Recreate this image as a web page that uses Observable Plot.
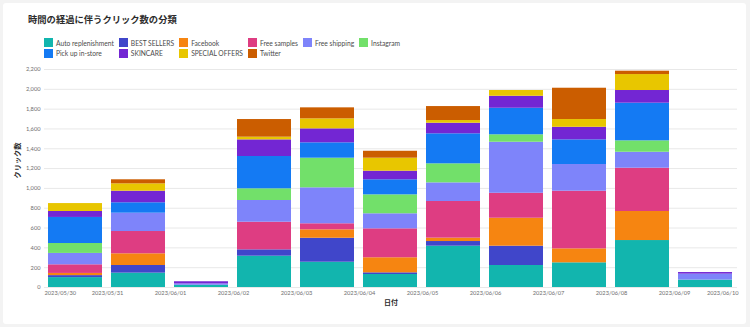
<!DOCTYPE html>
<html>
<head>
<meta charset="utf-8">
<script src="https://cdn.jsdelivr.net/npm/d3@7"></script>
<script src="https://cdn.jsdelivr.net/npm/@observablehq/plot@0.6"></script>
<style>
  html, body { margin: 0; padding: 0; }
  body { width: 750px; height: 327px; background: #f3f3f3; position: relative; overflow: hidden;
         font-family: Lato, "Open Sans", "Noto Sans", sans-serif; }
  .card { position: absolute; left: 3px; top: 3px; width: 743px; height: 321px; background: #fff; border-radius: 3px; }
  #chart { position: absolute; left: 0; top: 0; }
  .title { position: absolute; left: 28px; top: 12px; font-family: "Noto Sans CJK JP", sans-serif; font-weight: 700;
           font-size: 9.3px; color: #2c2c2c; white-space: nowrap; }
  .legend { position: absolute; left: 44px; top: 38px; display: grid; grid-template-columns: repeat(6, auto);
            column-gap: 5px; row-gap: 1.5px; font-size: 6.7px; color: #4b4b4b; }
  .legend .item { display: flex; align-items: center; white-space: nowrap; height: 9px; }
  .legend .sw { width: 9px; height: 9px; margin-right: 3px; flex: none; }
</style>
</head>
<body>
<div class="card"></div>
<div id="chart"></div>
<div class="title">時間の経過に伴うクリック数の分類</div>
<div class="legend" id="legend"></div>
<script>
const dates = ["2023-05-30","2023-05-31","2023-06-01","2023-06-02","2023-06-03","2023-06-04","2023-06-05","2023-06-06","2023-06-07","2023-06-08","2023-06-09"];
const tickDates = ["2023-05-30","2023-05-31","2023-06-01","2023-06-02","2023-06-03","2023-06-04","2023-06-05","2023-06-06","2023-06-07","2023-06-08","2023-06-09","2023-06-10"];
const seriesNames = ["Auto replenishment","BEST SELLERS","Facebook","Free samples","Free shipping","Instagram","Pick up in-store","SKINCARE","SPECIAL OFFERS","Twitter"];
const seriesColors = ["#12b5ae","#4046ca","#f68511","#de3d82","#7e84fa","#72e06a","#147af3","#7326d3","#e8c600","#cb5d00"];

const autoReplenishment = [100, 145, 22, 316, 255, 131, 417, 222, 249, 474, 75];
const bestSellers       = [ 20,  77,  0,  64, 242,  17,  47, 195,   0,   0,  0];
const facebook          = [ 22, 118,  0,   0,  85, 152,  34, 282, 141, 293,  0];
const freeSamples       = [ 87, 225,  0, 279,  61, 292, 370, 252, 582, 437,  0];
const freeShipping      = [115, 185, 14, 219, 363, 152, 188, 515, 269, 161, 60];
const instagram         = [100,   0,  0, 118, 299, 191, 192,  75,   0, 115,  0];
const pickUpInStore     = [263, 105,  0, 326, 155, 152, 303, 268, 249, 380,  0];
const skincare          = [ 60, 117, 22, 168, 141,  87, 107, 121, 127, 128, 16];
const specialOffers     = [ 80,  74,  0,  27, 101, 131,  27,  58,  78, 161,  0];
const twitter           = [  0,  41,  0, 178, 111,  70, 141,   0, 316,  34,  0];

const yTicks = [0, 200, 400, 600, 800, 1000, 1200, 1400, 1600, 1800, 2000, 2200];
const yLabel = "クリック数";
const xLabel = "日付";

const seriesValues = [autoReplenishment, bestSellers, facebook, freeSamples, freeShipping, instagram, pickUpInStore, skincare, specialOffers, twitter];
const parse = d3.utcParse("%Y-%m-%d");
const rows = [];
seriesNames.forEach((s, i) => {
  dates.forEach((d, j) => rows.push({series: s, date: parse(d), value: seriesValues[i][j]}));
});
const ticks = tickDates.map(parse);
const fmt = d3.utcFormat("%Y/%m/%d");
const numFmt = d3.format(",");

// legend
const legend = document.getElementById("legend");
seriesNames.forEach((s, i) => {
  const it = document.createElement("div");
  it.className = "item";
  it.innerHTML = `<span class="sw" style="background:${seriesColors[i]}"></span><span>${s}</span>`;
  legend.appendChild(it);
});

const tickFont = 5.7;
const tickColor = "#6e6e6e";
const chart = Plot.plot({
  width: 750,
  height: 327,
  marginTop: 69,
  marginBottom: 40,
  marginLeft: 44,
  marginRight: 13,
  style: {background: "transparent", fontFamily: "Lato, 'Open Sans', sans-serif"},
  x: {type: "utc", domain: [ticks[0], ticks[ticks.length - 1]], axis: null},
  y: {domain: [0, 2200], axis: null},
  color: {domain: seriesNames, range: seriesColors},
  marks: [
    Plot.gridY(yTicks, {stroke: "#e8e8e8", strokeOpacity: 1, strokeWidth: 1}),
    Plot.rectY(rows, Plot.stackY({
      x1: "date",
      x2: d => d3.utcDay.offset(d.date, 1),
      y: "value",
      fill: "series",
      order: seriesNames,
      insetLeft: 4,
      insetRight: 5
    })),
    Plot.text(yTicks, {y: d => d, frameAnchor: "left", textAnchor: "end", dx: -4, text: d => numFmt(d), fontSize: tickFont, fill: tickColor}),
    Plot.text(ticks.slice(1, -1), {x: d => d, frameAnchor: "bottom", lineAnchor: "top", dy: 3, text: d => fmt(d), fontSize: tickFont, fill: tickColor}),
    Plot.text(ticks.slice(0, 1), {x: d => d, frameAnchor: "bottom", lineAnchor: "top", dy: 3, text: d => fmt(d), textAnchor: "start", fontSize: tickFont, fill: tickColor}),
    Plot.text(ticks.slice(-1), {x: d => d, frameAnchor: "bottom", lineAnchor: "top", dy: 3, text: d => fmt(d), textAnchor: "end", dx: 1, fontSize: tickFont, fill: tickColor}),
    Plot.text([xLabel], {frameAnchor: "bottom", lineAnchor: "top", dy: 13, text: d => d, fontSize: 7, fontWeight: "bold", fill: "#2c2c2c", fontFamily: "'Noto Sans CJK JP', sans-serif"}),
    Plot.text([yLabel], {frameAnchor: "left", rotate: -90, dx: -27, text: d => d, fontSize: 7.2, fontWeight: "bold", fill: "#2c2c2c", fontFamily: "'Noto Sans CJK JP', sans-serif"})
  ]
});
document.getElementById("chart").appendChild(chart);
</script>
</body>
</html>
